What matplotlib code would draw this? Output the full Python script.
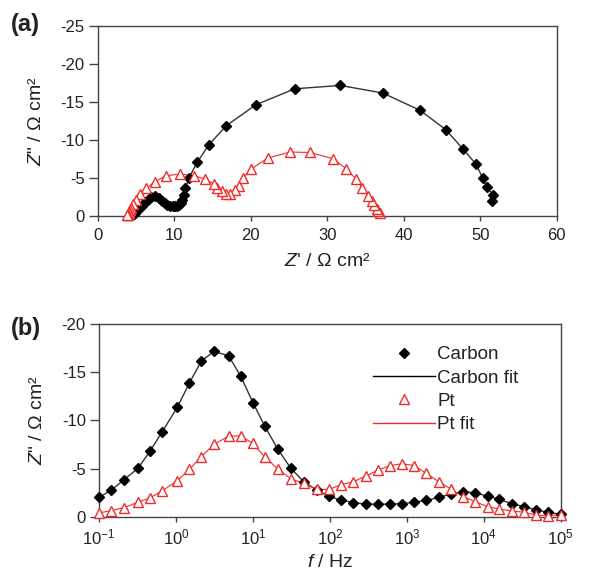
import matplotlib
matplotlib.use("Agg")
import matplotlib.pyplot as plt
from matplotlib.ticker import LogLocator, LogFormatterMathtext, NullLocator, MultipleLocator

plt.rcParams['font.family'] = ['Liberation Sans', 'DejaVu Sans']
plt.rcParams['mathtext.fontset'] = 'custom'
plt.rcParams['mathtext.rm'] = 'Liberation Sans'
plt.rcParams['mathtext.it'] = 'Liberation Sans:italic'
plt.rcParams['axes.unicode_minus'] = False

# impedance spectra, low frequency first
freq_hz = [0.1, 0.145, 0.209, 0.321, 0.462, 0.661, 1.04, 1.5, 2.14, 3.12, 4.83, 6.92,
           10.0, 14.3, 20.9, 30.9, 45.7, 67.6, 97.7, 138, 202, 295, 427, 610,
           871, 1250, 1800, 2600, 3740, 5370, 7760, 11200, 15800, 23200, 33700, 48400,
           69200, 100000]

carbon_zre = [51.5, 51.65, 50.9, 50.3, 49.45, 47.75, 45.5, 42.1, 37.25, 31.7, 25.75, 20.65,
              16.8, 14.55, 13.0, 11.95, 11.45, 11.25, 11.05, 10.85, 10.6, 10.35, 10.1, 9.8,
              9.45, 9.1, 8.75, 8.35, 7.95, 7.5, 7.0, 6.55, 6.15, 5.75, 5.45, 5.15,
              4.9, 4.7]
carbon_zim = [-2.0, -2.77, -3.8, -5.02, -6.82, -8.8, -11.35, -13.9, -16.16, -17.15, -16.71, -14.6,
              -11.85, -9.38, -7.05, -5.05, -3.63, -2.77, -2.1, -1.73, -1.47, -1.3, -1.3, -1.3,
              -1.35, -1.5, -1.7, -2.0, -2.35, -2.6, -2.45, -2.15, -1.8, -1.35, -1.04, -0.7,
              -0.45, -0.25]

pt_zre = [36.9, 36.7, 36.45, 36.1, 35.8, 35.3, 34.55, 33.7, 32.45, 30.8, 27.8, 25.1,
          22.2, 20.1, 19.0, 18.5, 17.95, 17.35, 16.75, 16.2, 15.65, 15.2, 14.0, 12.6,
          10.8, 8.9, 7.5, 6.27, 5.55, 5.0, 4.65, 4.4, 4.25, 4.15, 4.05, 3.95,
          3.9, 3.85]
pt_zim = [-0.4, -0.62, -0.93, -1.49, -1.97, -2.67, -3.74, -4.92, -6.23, -7.51, -8.35, -8.4,
          -7.6, -6.2, -4.98, -3.95, -3.46, -2.84, -2.84, -3.29, -3.63, -4.22, -4.85, -5.3,
          -5.5, -5.3, -4.5, -3.63, -2.87, -2.08, -1.56, -1.04, -0.8, -0.59, -0.46, -0.15,
          -0.12, -0.18]

legend_labels = ['Carbon', 'Carbon fit', 'Pt', 'Pt fit']

RED = '#f22a2a'
DARK = '#222222'
SPINE = '#444444'
TICK_FS = 12
LABEL_FS = 14

fig = plt.figure(figsize=(5.9, 5.81), dpi=100)
ax_a = fig.add_axes([0.1656, 0.6282, 0.778, 0.3276])
ax_b = fig.add_axes([0.1678, 0.1107, 0.7825, 0.3316])


def style_axes(ax, xpad):
    for s in ax.spines.values():
        s.set_color(SPINE)
        s.set_linewidth(1.0)
    ax.tick_params(axis='x', direction='out', length=3.6, width=1, color=SPINE,
                   labelsize=TICK_FS, labelcolor=DARK, pad=xpad)
    ax.tick_params(axis='y', direction='out', length=6.5, width=1, color=SPINE,
                   labelsize=TICK_FS, labelcolor=DARK, pad=3)


# (a) Nyquist plot
ax_a.plot(carbon_zre, carbon_zim, '-', color='#333333', lw=1.0, zorder=2, clip_on=False)
ax_a.plot(pt_zre, pt_zim, '-', color=RED, lw=0.8, zorder=2, clip_on=False)
ax_a.plot(carbon_zre, carbon_zim, 'D', color='black', ms=5.2, zorder=3, clip_on=False)
ax_a.plot(pt_zre, pt_zim, '^', mfc='white', mec=RED, mew=1.0, ms=6.8, ls='none',
          zorder=4, clip_on=False)
ax_a.set_xlim(0, 60)
ax_a.set_ylim(0, -25)
ax_a.xaxis.set_major_locator(MultipleLocator(10))
ax_a.yaxis.set_major_locator(MultipleLocator(5))
style_axes(ax_a, 5)
ax_a.set_xlabel("$Z$' / Ω cm²", fontsize=LABEL_FS, color=DARK, labelpad=7)
ax_a.set_ylabel('$Z$" / Ω cm²', fontsize=LABEL_FS, color=DARK, labelpad=11)

# (b) imaginary part against frequency
ax_b.plot(freq_hz, carbon_zim, '-', color='#333333', lw=1.0, zorder=2)
ax_b.plot(freq_hz, pt_zim, '-', color=RED, lw=0.8, zorder=2)
h_c, = ax_b.plot(freq_hz, carbon_zim, 'D', color='black', ms=5.2, ls='none', zorder=3, clip_on=False)
h_p, = ax_b.plot(freq_hz, pt_zim, '^', mfc='white', mec=RED, mew=1.0, ms=6.8, ls='none',
                 zorder=4, clip_on=False)
h_cf, = ax_b.plot([], [], '-', color='black', lw=1.0)
h_pf, = ax_b.plot([], [], '-', color=RED, lw=1.0)
ax_b.set_xscale('log')
ax_b.set_xlim(0.1, 1e5)
ax_b.set_ylim(0, -20)
ax_b.xaxis.set_major_locator(LogLocator(base=10, numticks=10))
ax_b.xaxis.set_major_formatter(LogFormatterMathtext())
ax_b.xaxis.set_minor_locator(NullLocator())
ax_b.yaxis.set_major_locator(MultipleLocator(5))
style_axes(ax_b, 4)
ax_b.set_xlabel(r"$f$ / Hz", fontsize=LABEL_FS, color=DARK, labelpad=5)
ax_b.set_ylabel('$Z$" / Ω cm²', fontsize=LABEL_FS, color=DARK, labelpad=11)

ax_b.legend([h_c, h_cf, h_p, h_pf], legend_labels,
            loc='upper left', bbox_to_anchor=(0.593, 0.885), frameon=False,
            fontsize=13.5, handlelength=3.3, handletextpad=0.15, labelspacing=0.33,
            borderpad=0, borderaxespad=0, labelcolor=DARK)

fig.text(0.019, 0.957, '(a)', fontsize=17, fontweight='bold', color=DARK, va='center')
fig.text(0.019, 0.434, '(b)', fontsize=17, fontweight='bold', color=DARK, va='center')

fig.savefig('out.png', dpi=100)
